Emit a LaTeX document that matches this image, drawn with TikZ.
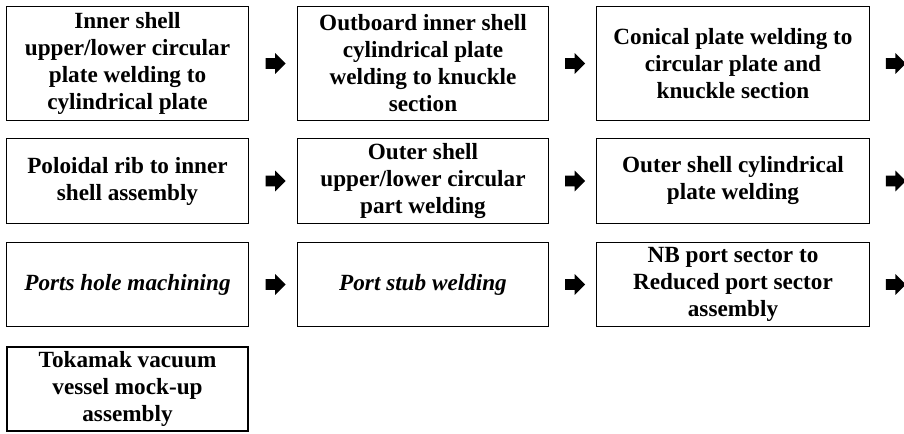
\documentclass[tikz,border=0pt]{standalone}
\usepackage{fontspec}
\setmainfont{Liberation Serif}
\usetikzlibrary{shapes.arrows, calc}

\tikzset{
    stepbox/.style={draw, line width=0.7pt, align=center, inner sep=0pt,
        font=\bfseries\fontsize{16.5}{19.2}\selectfont},
    nextarrow/.style={single arrow, fill=black, draw=none, inner xsep=0pt, inner ysep=0.125cm,
        minimum height=0.5cm,
        single arrow head extend=0.13cm, single arrow head indent=0pt}
}

\begin{document}
\begin{tikzpicture}[x=0.025cm, y=-0.025cm]
        \useasboundingbox (0,0) rectangle (904,434);

        % first row
        \node[stepbox, minimum width=6.03cm, minimum height=2.83cm] (inner) at (127.5,63.5)
            {Inner shell\\upper/lower circular\\plate welding to\\cylindrical plate};
        \node[stepbox, minimum width=6.25cm, minimum height=2.83cm] (outboard) at (423,63.5)
            {Outboard inner shell\\cylindrical plate\\welding to knuckle\\section};
        \node[stepbox, minimum width=6.8cm, minimum height=2.83cm] (conical) at (733,63.5)
            {Conical plate welding to\\circular plate and\\knuckle section};

        % second row
        \node[stepbox, minimum width=6.03cm, minimum height=2.1cm] (poloidal) at (127.5,181)
            {Poloidal rib to inner\\shell assembly};
        \node[stepbox, minimum width=6.25cm, minimum height=2.1cm] (outer) at (423,181)
            {Outer shell\\upper/lower circular\\part welding};
        \node[stepbox, minimum width=6.8cm, minimum height=2.1cm] (cylindrical) at (733,181)
            {Outer shell cylindrical\\plate welding};

        % third row
        \node[stepbox, minimum width=6.03cm, minimum height=2.08cm] (ports) at (127.5,284.5)
            {\itshape Ports hole machining};
        \node[stepbox, minimum width=6.25cm, minimum height=2.08cm] (stub) at (423,284.5)
            {\itshape Port stub welding};
        \node[stepbox, minimum width=6.8cm, minimum height=2.08cm] (nbport) at (733,284.5)
            {NB port sector to\\Reduced port sector\\assembly};

        % last step
        \node[stepbox, line width=1.6pt, minimum width=6.03cm, minimum height=2.1cm] (tokamak) at (127.5,389)
            {Tokamak vacuum\\vessel mock-up\\assembly};

        % arrows between the steps
        \node[nextarrow] (a1) at ($(inner.east)!0.5!(outboard.west)$) {};
        \node[nextarrow] (a2) at ($(outboard.east)!0.5!(conical.west)$) {};
        \node[nextarrow] (a3) at ([xshift=0.59cm]conical.east) {};
        \node[nextarrow] (a4) at ($(poloidal.east)!0.5!(outer.west)$) {};
        \node[nextarrow] (a5) at ($(outer.east)!0.5!(cylindrical.west)$) {};
        \node[nextarrow] (a6) at ([xshift=0.59cm]cylindrical.east) {};
        \node[nextarrow] (a7) at ($(ports.east)!0.5!(stub.west)$) {};
        \node[nextarrow] (a8) at ($(stub.east)!0.5!(nbport.west)$) {};
        \node[nextarrow] (a9) at ([xshift=0.59cm]nbport.east) {};

    \end{tikzpicture}
\end{document}
